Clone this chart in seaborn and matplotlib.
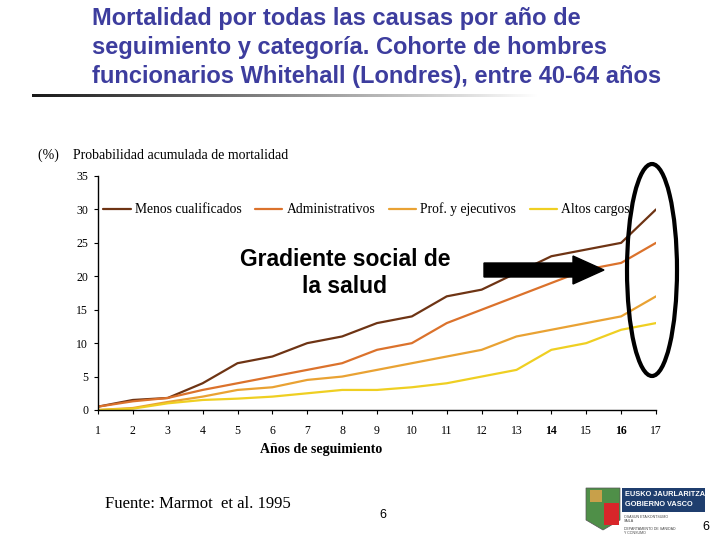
import pandas as pd
import numpy as np
import matplotlib
matplotlib.use("Agg")
import matplotlib.pyplot as plt
import seaborn as sns
from matplotlib.patches import Ellipse, Polygon, Rectangle

# Datos
anios = list(range(1, 18))
menos_cualificados = [0.5, 1.5, 1.8, 4, 7, 8, 10, 11, 13, 14, 17, 18, 20.5, 23, 24, 25, 30]
administrativos = [0.5, 1.3, 1.8, 3, 4, 5, 6, 7, 9, 10, 13, 15, 17, 19, 21, 22, 25]
prof_ejecutivos = [0, 0.3, 1.2, 2, 3, 3.4, 4.5, 5, 6, 7, 8, 9, 11, 12, 13, 14, 17]
altos_cargos = [0, 0.2, 1, 1.5, 1.7, 2, 2.5, 3, 3, 3.4, 4, 5, 6, 9, 10, 12, 13]
categorias = ["Menos cualificados", "Administrativos", "Prof. y ejecutivos", "Altos cargos"]
colores = ["#6e3414", "#db722c", "#e9a233", "#efcf22"]

df = pd.DataFrame({
    "anio": anios * 4,
    "valor": menos_cualificados + administrativos + prof_ejecutivos + altos_cargos,
    "categoria": sum([[c] * len(anios) for c in categorias], []),
})

sns.set_style("white")
plt.rcParams["font.family"] = ["Liberation Serif", "DejaVu Serif"]
plt.rcParams["text.color"] = "black"
plt.rcParams["xtick.color"] = "black"
plt.rcParams["ytick.color"] = "black"
sans = ["Liberation Sans", "DejaVu Sans"]

fig = plt.figure(figsize=(7.2, 5.4), dpi=100)
W, H = 720.0, 540.0


def fx(x):
    return x / W


def fy(y):
    return 1 - y / H


# Titulo
titulo = ("Mortalidad por todas las causas por año de\n"
          "seguimiento y categoría. Cohorte de hombres\n"
          "funcionarios Whitehall (Londres), entre 40-64 años")
fig.text(fx(92), fy(7), titulo, ha="left", va="top", color="#3d3d9e",
         family=sans, weight="bold", fontsize=17, linespacing=1.33)

# Linea degradada bajo el titulo
ax_lin = fig.add_axes([fx(32), fy(97), fx(540) - fx(32), 3 / H])
grad = np.linspace(0.1, 1, 256).reshape(1, -1)
ax_lin.imshow(grad, aspect="auto", cmap="gray", vmin=0, vmax=1)
ax_lin.axis("off")

# Grafico principal
ax = fig.add_axes([fx(98), fy(410), fx(656) - fx(98), (410 - 176) / H])
sns.lineplot(data=df, x="anio", y="valor", hue="categoria", hue_order=categorias,
             palette=dict(zip(categorias, colores)), linewidth=1.6, ax=ax)
ax.set_xlim(1, 17)
ax.set_ylim(0, 35)
ax.set_xticks(anios)
ax.set_yticks(range(0, 36, 5))
ax.set_xlabel("")
ax.set_ylabel("")
for s in ["top", "right"]:
    ax.spines[s].set_visible(False)
for s in ["left", "bottom"]:
    ax.spines[s].set_color("black")
    ax.spines[s].set_linewidth(1)
ax.tick_params(axis="both", which="both", direction="out", length=3, width=0.8,
               color="black", labelsize=8.5, pad=8, left=True, bottom=True)
ax.tick_params(axis="y", pad=4)
for lbl in ax.get_xticklabels():
    if lbl.get_text() in ("14", "16"):
        lbl.set_fontweight("bold")

ax.legend(loc="center left", bbox_to_anchor=(0.0, 0.857), ncol=4, frameon=False,
          fontsize=9.8, handlelength=2.0, handletextpad=0.3, columnspacing=1.0,
          borderaxespad=0)

fig.text(fx(38), fy(155), "(%)    Probabilidad acumulada de mortalidad", ha="left",
         va="center", fontsize=10)
fig.text(fx(321), fy(449), "Años de seguimiento", ha="center", va="center",
         fontsize=10, weight="bold")

# Anotaciones
fig.text(fx(345), fy(273), "Gradiente social de\nla salud", ha="center", va="center",
         family=sans, fontsize=16.5, weight="bold", linespacing=1.27)
flecha = [(484, 263), (573, 263), (573, 256), (604, 270), (573, 284), (573, 277), (484, 277)]
fig.patches.append(Polygon([(fx(x), fy(y)) for x, y in flecha], closed=True,
                           facecolor="black", edgecolor="black",
                           transform=fig.transFigure))
fig.patches.append(Ellipse((fx(652), fy(270)), 50 / W, 212 / H, fill=False,
                           edgecolor="black", linewidth=3, transform=fig.transFigure))

# Pie
fig.text(fx(105), fy(504), "Fuente: Marmot  et al. 1995", ha="left", va="center",
         fontsize=12)
fig.text(fx(383), fy(515), "6", ha="center", va="center", family=sans, fontsize=9)
fig.text(fx(706), fy(527), "6", ha="center", va="center", family=sans, fontsize=9)

# Logo aproximado
escudo = [(586, 488), (620, 488), (620, 520), (603, 530), (586, 520)]
fig.patches.append(Polygon([(fx(x), fy(y)) for x, y in escudo], closed=True,
                           facecolor="#4f8f48", edgecolor="#555555", linewidth=0.5,
                           transform=fig.transFigure))
fig.patches.append(Rectangle((fx(604), fy(525)), 15 / W, 22 / H, facecolor="#d8262a",
                             edgecolor="none", transform=fig.transFigure))
fig.patches.append(Rectangle((fx(590), fy(502)), 12 / W, 12 / H, facecolor="#c8a04a",
                             edgecolor="none", transform=fig.transFigure))
fig.patches.append(Rectangle((fx(622), fy(512)), 83 / W, 24 / H, facecolor="#1f3e6e",
                             edgecolor="none", transform=fig.transFigure))
fig.text(fx(625), fy(494), "EUSKO JAURLARITZA", ha="left", va="center", color="white",
         family=sans, fontsize=5.3, weight="bold")
fig.text(fx(625), fy(505), "GOBIERNO VASCO", ha="left", va="center", color="white",
         family=sans, fontsize=5.3, weight="bold")
fig.text(fx(624), fy(519), "OSASUN ETA KONTSUMO\nSAILA", ha="left", va="center",
         color="#444444", family=sans, fontsize=2.6)
fig.text(fx(624), fy(531), "DEPARTAMENTO DE SANIDAD\nY CONSUMO", ha="left", va="center",
         color="#444444", family=sans, fontsize=2.6)

fig.savefig("out.png", dpi=100)
